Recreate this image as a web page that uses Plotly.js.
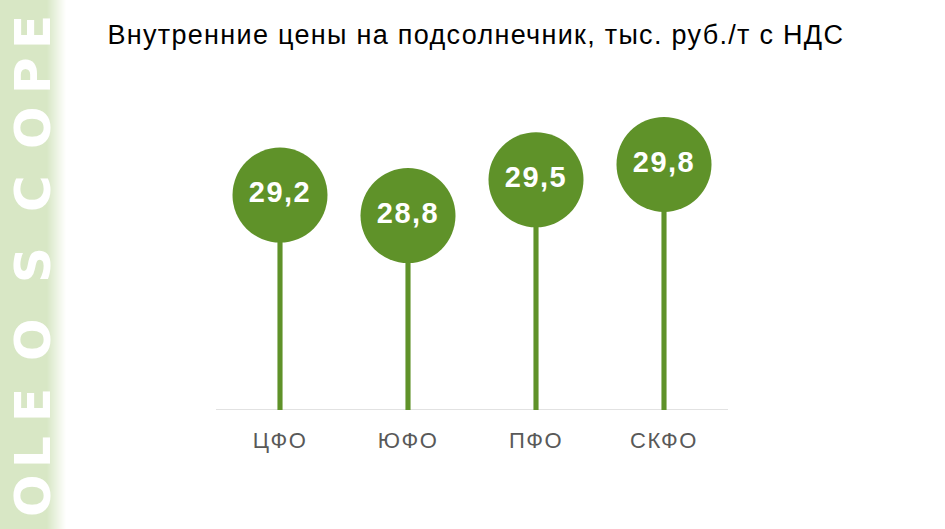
<!DOCTYPE html>
<html>
<head>
<meta charset="utf-8">
<script src="https://cdn.plot.ly/plotly-3.0.1.min.js"></script>
<style>
html,body{margin:0;padding:0;background:#fff;}
#chart{width:945px;height:529px;}
#chart .xtick text{letter-spacing:1.5px;}
#chart .textpoint text{letter-spacing:1.5px;}
#chart .annotation.title-ann text{letter-spacing:1.3px;}
</style>
</head>
<body>
<div id="chart"></div>
<script>
const categories = ['ЦФО', 'ЮФО', 'ПФО', 'СКФО'];
const prices = [29.2, 28.8, 29.5, 29.8];
const chartTitle = 'Внутренние цены на подсолнечник, тыс. руб./т с НДС';
const watermark = 'OLEOSCOPE';

const W = 945, H = 529;
const L = 216, R = 217, T = 103, B = 119;
const pw = W - L - R, ph = H - T - B;
const px = p => (p - L) / pw;
const py = p => (H - B - p) / ph;

const green = '#5f9229';

const shapes = [];
shapes.push({type:'rect', xref:'paper', yref:'paper', x0:px(0), x1:px(47), y0:py(0), y1:py(H),
  fillcolor:'#d8e7c5', line:{width:0}, layer:'below'});
const fadeStart = 47, fadeEnd = 66;
for (let p = fadeStart; p < fadeEnd; p++) {
  const t = 1 - (p - fadeStart + 0.5) / (fadeEnd - fadeStart);
  shapes.push({type:'rect', xref:'paper', yref:'paper', x0:px(p), x1:px(p+1), y0:py(0), y1:py(H),
    fillcolor:'rgba(216,231,197,' + t.toFixed(3) + ')', line:{width:0}, layer:'below'});
}
shapes.push({type:'line', xref:'paper', yref:'y', x0:0, x1:1, y0:25, y1:25,
  line:{color:'#d9d9d9', width:1.3}, layer:'below'});

const letterCenters = [496, 452, 405, 340, 265, 194, 128, 76, 32];
const annotations = watermark.split('').map((ch, i) => ({
  xref:'paper', yref:'paper', x:px(33), y:py(letterCenters[i]),
  text:ch, showarrow:false, textangle:-90, xanchor:'center', yanchor:'middle',
  font:{family:'DejaVu Sans, Liberation Sans, sans-serif', size:50, color:'#ffffff', weight:'bold'}
}));
annotations.push({
  xref:'paper', yref:'paper', x:px(138), y:py(35), xanchor:'left', yanchor:'middle',
  text:chartTitle, showarrow:false, name:'title',
  font:{family:'Liberation Sans, Arial, sans-serif', size:27, color:'#000000'}
});

const stems = {
  type:'bar', x:categories, y:prices, width:0.04,
  marker:{color:green, line:{width:0}}, hoverinfo:'skip'
};
const heads = {
  type:'scatter', mode:'markers+text', x:categories, y:prices,
  marker:{size:95, color:green, line:{width:0}},
  texttemplate:'%{y:.1f}', textposition:'middle center',
  textfont:{family:'Liberation Sans, Arial, sans-serif', size:29, color:'#ffffff', weight:'bold'},
  cliponaxis:false
};

const layout = {
  width:W, height:H, margin:{l:L, r:R, t:T, b:B, pad:0},
  paper_bgcolor:'#ffffff', plot_bgcolor:'rgba(0,0,0,0)',
  showlegend:false, separators:',.',
  xaxis:{type:'category', range:[-0.5, 3.5], showgrid:false, zeroline:false, showline:false,
    ticks:'outside', ticklen:0, ticklabelstandoff:11,
    tickfont:{family:'Liberation Sans, Arial, sans-serif', size:22, color:'#595959'},
    fixedrange:true},
  yaxis:{range:[25, 31], visible:false, fixedrange:true},
  shapes:shapes, annotations:annotations
};

Plotly.newPlot('chart', [stems, heads], layout, {displayModeBar:false, staticPlot:true}).then(gd => {
  const anns = gd.querySelectorAll('.annotation');
  const last = anns[anns.length - 1];
  if (last) last.classList.add('title-ann');
});
</script>
</body>
</html>
